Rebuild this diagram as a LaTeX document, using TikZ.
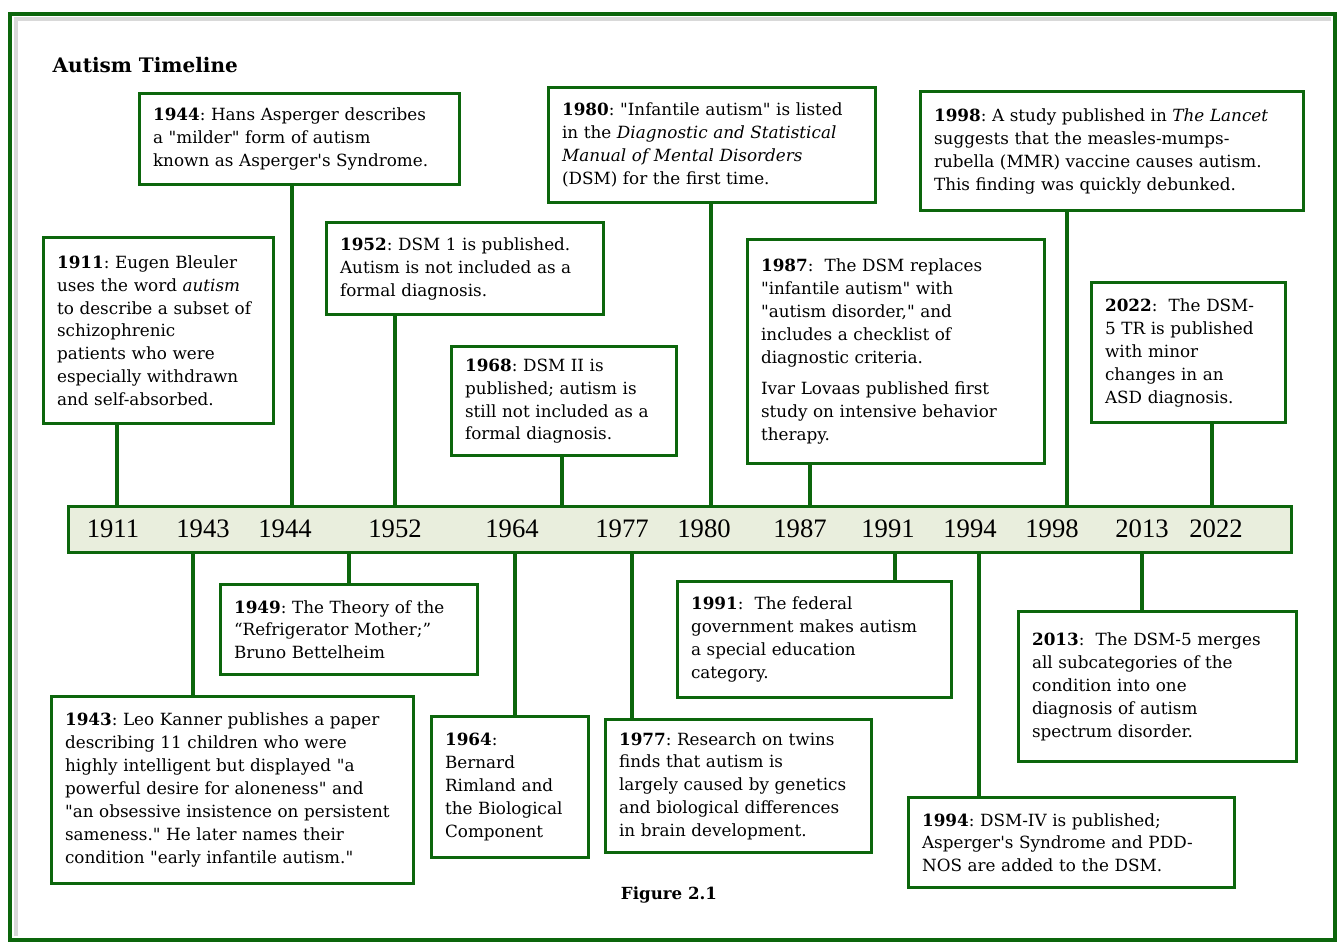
\documentclass[tikz,border=0pt]{standalone}
\usepackage{fontspec}
\setmainfont{DejaVu Serif}[Ligatures=TeXOff]
\newfontfamily\yrfont{Liberation Serif}
\usepackage{tikz}
\frenchspacing

\definecolor{tlgreen}{RGB}{12,102,12}
\definecolor{barfill}{RGB}{233,238,221}

\tikzset{
  ev/.style={draw=tlgreen, line width=2.6pt, fill=white, anchor=north west, align=left,
    inner xsep=10pt, inner ysep=5pt, font=\fontsize{12.6}{17.2}\selectfont},
  stem/.style={draw=tlgreen, line width=3.6pt},
  yr/.style={font=\yrfont\fontsize{20}{20}\selectfont, inner sep=0pt}
}

\begin{document}
\begin{tikzpicture}[x=0.75pt,y=-0.75pt]
\useasboundingbox (0,0) rectangle (1339,944);
% frame
\draw[black!15, line width=3pt] (16,936) -- (16,19) -- (1331,19);
\draw[tlgreen, line width=3.6pt] (10,14) rectangle (1335,940);
\node[anchor=west, font=\bfseries\fontsize{15}{15}\selectfont] (title) at (48,65) {Autism Timeline};

% the bar
\node[draw=tlgreen, line width=2.6pt, fill=barfill, anchor=north west,
  minimum width=917pt, minimum height=34.5pt, inner sep=0pt] (bar) at (67,505) {};
\node[yr] (y1911) at (113,529) {1911};
\node[yr] (y1943) at (203,529) {1943};
\node[yr] (y1944) at (285,529) {1944};
\node[yr] (y1952) at (395,529) {1952};
\node[yr] (y1964) at (512,529) {1964};
\node[yr] (y1977) at (622,529) {1977};
\node[yr] (y1980) at (704,529) {1980};
\node[yr] (y1987) at (800,529) {1987};
\node[yr] (y1991) at (888,529) {1991};
\node[yr] (y1994) at (970,529) {1994};
\node[yr] (y1998) at (1052,529) {1998};
\node[yr] (y2013) at (1142,529) {2013};
\node[yr] (y2022) at (1216,529) {2022};

% events above
\node[ev, text width=152.5pt, minimum height=139.5pt] (e1911) at (42,236)
  {\textbf{1911}: Eugen Bleuler\\uses the word \textit{autism}\\to describe a subset of\\schizophrenic\\patients who were\\especially withdrawn\\and self-absorbed.};
\node[ev, text width=220pt, minimum height=68.25pt] (e1944) at (138,92)
  {\textbf{1944}: Hans Asperger describes\\a "milder" form of autism\\known as Asperger's Syndrome.};
\node[ev, text width=187.75pt, minimum height=69pt] (e1952) at (325,221)
  {\textbf{1952}: DSM 1 is published.\\Autism is not included as a\\formal diagnosis.};
\node[ev, text width=225.25pt, minimum height=86.25pt] (e1980) at (547,86)
  {\textbf{1980}: "Infantile autism" is listed\\in the \textit{Diagnostic and Statistical}\\\textit{Manual of Mental Disorders}\\(DSM) for the first time.};
\node[ev, text width=148.75pt, minimum height=81.75pt] (e1968) at (450,345)
  {\textbf{1968}: DSM II is\\published; autism is\\still not included as a\\formal diagnosis.};
\node[ev, text width=202.75pt, minimum height=168pt] (e1987) at (746,238)
  {\textbf{1987}:\ \ The DSM replaces\\"infantile autism" with\\"autism disorder," and\\includes a checklist of\\diagnostic criteria.\\[6pt]Ivar Lovaas published first\\study on intensive behavior\\therapy.};
\node[ev, text width=267.25pt, minimum height=89.25pt] (e1998) at (919,90)
  {\textbf{1998}: A study published in \textit{The Lancet}\\suggests that the measles-mumps-\\rubella (MMR) vaccine causes autism.\\This finding was quickly debunked.};
\node[ev, text width=125.5pt, minimum height=105pt] (e2022) at (1090,281)
  {\textbf{2022}:\ \ The DSM-\\5 TR is published\\with minor\\changes in an\\ASD diagnosis.};

% events below
\node[ev, text width=172.75pt, minimum height=67.5pt] (e1949) at (219,583)
  {\textbf{1949}: The Theory of the\\“Refrigerator Mother;”\\Bruno Bettelheim};
\node[ev, text width=251.5pt, minimum height=140.25pt] (e1943) at (50,695)
  {\textbf{1943}: Leo Kanner publishes a paper\\describing 11 children who were\\highly intelligent but displayed "a\\powerful desire for aloneness" and\\"an obsessive insistence on persistent\\sameness." He later names their\\condition "early infantile autism."};
\node[ev, text width=97.75pt, minimum height=105.75pt] (e1964) at (430,715)
  {\textbf{1964}:\\Bernard\\Rimland and\\the Biological\\Component};
\node[ev, text width=179.5pt, minimum height=99.75pt] (e1977) at (604,718)
  {\textbf{1977}: Research on twins\\finds that autism is\\largely caused by genetics\\and biological differences\\in brain development.};
\node[ev, text width=185.5pt, minimum height=87pt] (e1991) at (676,580)
  {\textbf{1991}:\ \ The federal\\government makes autism\\a special education\\category.};
\node[ev, text width=188.5pt, minimum height=112.5pt] (e2013) at (1017,610)
  {\textbf{2013}:\ \ The DSM-5 merges\\all subcategories of the\\condition into one\\diagnosis of autism\\spectrum disorder.};
\node[ev, text width=224.5pt, minimum height=67.5pt] (e1994) at (907,796)
  {\textbf{1994}: DSM-IV is published;\\Asperger's Syndrome and PDD-\\NOS are added to the DSM.};

\node[font=\bfseries\fontsize{12.5}{12.5}\selectfont] (fig) at (669,895) {Figure 2.1};

% stems
\coordinate (c1911) at (117,0);
\coordinate (c1944) at (292,0);
\coordinate (c1952) at (395,0);
\coordinate (c1968) at (562,0);
\coordinate (c1980) at (711,0);
\coordinate (c1987) at (810,0);
\coordinate (c1998) at (1067,0);
\coordinate (c2022) at (1212,0);
\coordinate (c1943) at (193,0);
\coordinate (c1949) at (349,0);
\coordinate (c1964) at (515,0);
\coordinate (c1977) at (632,0);
\coordinate (c1991) at (895,0);
\coordinate (c1994) at (979,0);
\coordinate (c2013) at (1142,0);
\foreach \y in {1911,1944,1952,1968,1980,1987,1998,2022}
  \draw[stem] (e\y.south -| c\y) -- (bar.north -| c\y);
\foreach \y in {1943,1949,1964,1977,1991,1994,2013}
  \draw[stem] (bar.south -| c\y) -- (e\y.north -| c\y);
\end{tikzpicture}
\end{document}
